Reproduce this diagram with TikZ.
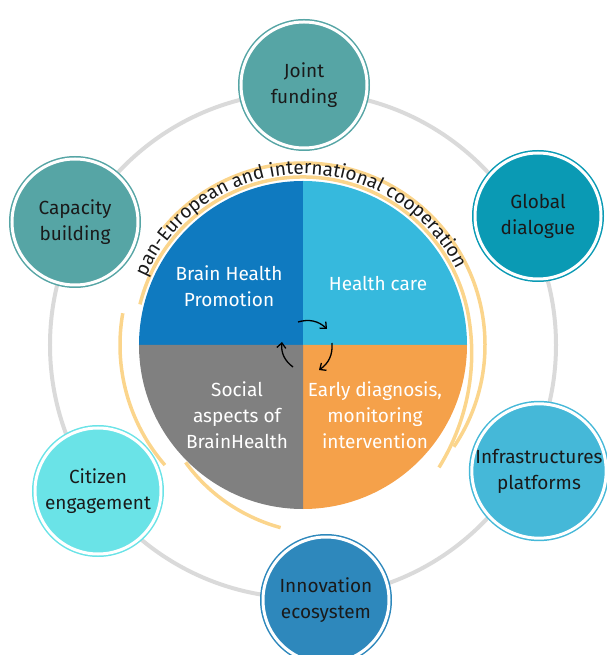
\documentclass[tikz,border=0pt]{standalone}
\usepackage{fontspec}
\setmainfont{Fira Sans}
\usetikzlibrary{decorations.text,arrows.meta}

\definecolor{tealA}{HTML}{56A5A5}
\definecolor{tealB}{HTML}{0A9AB4}
\definecolor{skyA}{HTML}{45B8D8}
\definecolor{blueA}{HTML}{2E88BC}
\definecolor{aquaA}{HTML}{6AE3E7}
\definecolor{quadTL}{HTML}{0F7AC0}
\definecolor{quadTR}{HTML}{36B9DD}
\definecolor{quadBR}{HTML}{F5A14A}
\definecolor{quadBL}{HTML}{808080}
\definecolor{ringgray}{HTML}{DADADA}
\definecolor{sand}{HTML}{FBD58C}
\definecolor{ink}{HTML}{1A1A1A}

\newcommand{\bodyfont}{\fontsize{19}{26}\selectfont}

\begin{document}
\begin{tikzpicture}[x=1pt,y=1pt,
  satellite/.style={circle, fill=#1, draw=#1, double=white,
    double distance=3pt, line width=1.5pt, minimum size=126pt,
    inner sep=0pt, align=center, text=ink, font=\bodyfont},
  quadtext/.style={align=center, text=white, font=\bodyfont},
  sandline/.style={draw=sand, line width=3.5pt},
  cyc/.style={draw=black, line width=1.3pt, -{Straight Barb[length=5pt,width=9pt]}}]

\useasboundingbox (-303,-310) rectangle (303,345);

% outer ring joining the six themes
\draw[ringgray, line width=4pt] (0,0) circle (253);

% four quadrants of the core
\fill[quadTL] (0,0) -- (90:164) arc[start angle=90, end angle=180, radius=164] -- cycle;
\fill[quadTR] (0,0) -- (0:164) arc[start angle=0, end angle=90, radius=164] -- cycle;
\fill[quadBR] (0,0) -- (-90:164) arc[start angle=-90, end angle=0, radius=164] -- cycle;
\fill[quadBL] (0,0) -- (180:164) arc[start angle=180, end angle=270, radius=164] -- cycle;

% sand coloured bands around the core
\draw[sandline] (166:168) arc[start angle=166, end angle=10, radius=168]
  plot[domain=10:-42, samples=40] (\x:{168+15*((10-\x)/52)^2});
\draw[sandline] (140:182) arc[start angle=140, end angle=-34, radius=182];
\draw[sandline] (170:183) arc[start angle=170, end angle=221, radius=183];
\draw[sandline] plot[domain=225:263, samples=40] (\x:{166+18*((\x-225)/38)});

% label along the top of the core
\path[decorate, decoration={text along path, text align=center,
  text={|\bodyfont\color{ink}|pan-European and international cooperation}}]
  (172:171) arc[start angle=172, end angle=11, radius=171];

% quadrant labels
\node[quadtext] (q1) at (-74,59) {Brain Health\\Promotion};
\node[quadtext] (q2) at (75,62) {Health care};
\node[quadtext] (q3) at (72,-70) {Early diagnosis,\\monitoring\\intervention};
\node[quadtext] (q4) at (-66,-70) {Social\\aspects of\\BrainHealth};

% cycle arrows in the middle
\coordinate (a1) at (-5,23);  \coordinate (b1) at (24,16);
\coordinate (a2) at (29,2);   \coordinate (b2) at (16,-25);
\coordinate (a3) at (-10,-22); \coordinate (b3) at (-21,3);
\draw[cyc] (a1) to[bend left=30] (b1);
\draw[cyc] (a2) to[bend left=30] (b2);
\draw[cyc] (a3) to[bend left=30] (b3);

% surrounding themes
\node[satellite=tealA] (jf) at (1,260) {Joint\\funding};
\node[satellite=tealB] (gd) at (235,129) {Global\\dialogue};
\node[satellite=tealA] (cb) at (-228,123) {Capacity\\building};
\node[satellite=skyA]  (ip) at (236,-126) {Infrastructures\\platforms};
\node[satellite=blueA] (ie) at (23,-255) {Innovation\\ecosystem};
\node[satellite=aquaA] (ce) at (-205,-146) {Citizen\\engagement};

\end{tikzpicture}
\end{document}
